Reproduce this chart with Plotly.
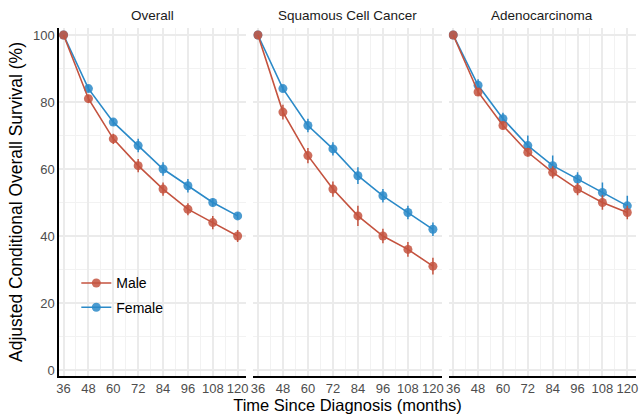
import plotly.graph_objects as go

months = [36, 48, 60, 72, 84, 96, 108, 120]
panels = ["Overall", "Squamous Cell Cancer", "Adenocarcinoma"]

male = {
    "Overall": [100, 81, 69, 61, 54, 48, 44, 40],
    "Squamous Cell Cancer": [100, 77, 64, 54, 46, 40, 36, 31],
    "Adenocarcinoma": [100, 83, 73, 65, 59, 54, 50, 47],
}
female = {
    "Overall": [100, 84, 74, 67, 60, 55, 50, 46],
    "Squamous Cell Cancer": [100, 84, 73, 66, 58, 52, 47, 42],
    "Adenocarcinoma": [100, 85, 75, 67, 61, 57, 53, 49],
}
male_err = {
    "Overall": [0, 1.2, 1.5, 2.0, 2.0, 1.8, 2.0, 1.8],
    "Squamous Cell Cancer": [0, 2.2, 2.3, 2.3, 3.0, 2.2, 2.2, 2.5],
    "Adenocarcinoma": [0, 1.2, 1.2, 1.3, 1.8, 1.8, 2.2, 2.0],
}
female_err = {
    "Overall": [0, 1.0, 1.0, 2.0, 2.0, 2.0, 1.2, 1.0],
    "Squamous Cell Cancer": [0, 1.0, 2.0, 2.0, 2.5, 2.0, 2.0, 2.0],
    "Adenocarcinoma": [0, 1.8, 1.8, 3.0, 3.0, 2.0, 3.0, 3.0],
}

MALE_C = "#C4533F"
FEMALE_C = "#2B8AC8"
FONT = "Liberation Sans"

fig = go.Figure()
W = 579.0
domains = [[0, 188 / W], [195 / W, 384 / W], [391 / W, 1.0]]

for i, p in enumerate(panels):
    xa = "x" if i == 0 else f"x{i+1}"
    ya = "y" if i == 0 else f"y{i+1}"
    for name, vals, errs, col, grp in [
        ("Female", female[p], female_err[p], FEMALE_C, "b"),
        ("Male", male[p], male_err[p], MALE_C, "a"),
    ]:
        fig.add_trace(go.Scatter(
            x=months, y=vals, mode="lines+markers", name=name,
            xaxis=xa, yaxis=ya,
            line=dict(color=col, width=1.6),
            marker=dict(color=col, size=9, opacity=0.85),
            error_y=dict(type="data", array=errs, visible=True, width=0,
                         thickness=1.5, color=col),
            showlegend=(i == 0), legendgroup=grp, legendrank=1 if name == "Male" else 2,
        ))

grid_major = "#EBEBEB"
grid_minor = "#F2F2F2"
for i in range(3):
    sx = "" if i == 0 else str(i + 1)
    fig.update_layout(**{
        f"xaxis{sx}": dict(
            domain=domains[i], range=[33.8, 124.2], tickmode="array",
            tickvals=months, ticktext=[str(m) for m in months],
            showgrid=True, gridcolor=grid_major, gridwidth=1.8,
            minor=dict(tickmode="array", tickvals=[42, 54, 66, 78, 90, 102, 114],
                       showgrid=True, gridcolor=grid_minor, gridwidth=1),
            showline=True, linecolor="#000000", linewidth=1.5,
            zeroline=False, ticks="", ticklabelstandoff=0,
            tickfont=dict(family=FONT, size=13, color="#4D4D4D"),
            anchor="y" if i == 0 else f"y{i+1}",
        ),
        f"yaxis{sx}": dict(
            domain=[0, 1], range=[-1.8, 102.1], tickmode="array",
            tickvals=[0, 20, 40, 60, 80, 100],
            showticklabels=(i == 0),
            showgrid=True, gridcolor=grid_major, gridwidth=1.8,
            minor=dict(tickmode="array", tickvals=[10, 30, 50, 70, 90],
                       showgrid=True, gridcolor=grid_minor, gridwidth=1),
            showline=(i == 0), linecolor="#000000", linewidth=1.5,
            zeroline=False, ticks="",
            tickfont=dict(family=FONT, size=13, color="#4D4D4D"),
            anchor="x" if i == 0 else f"x{i+1}",
        ),
    })

annotations = []
for i, p in enumerate(panels):
    annotations.append(dict(
        text=p, x=(domains[i][0] + domains[i][1]) / 2, y=1, xref="paper", yref="paper",
        xanchor="center", yanchor="bottom", yshift=3, showarrow=False,
        font=dict(family=FONT, size=13.5, color="#1A1A1A"),
    ))

fig.update_layout(
    width=641, height=420,
    margin=dict(l=59, r=3, t=28, b=44),
    paper_bgcolor="white", plot_bgcolor="white",
    font=dict(family=FONT, color="#000000"),
    annotations=annotations,
    xaxis2_title=dict(text="Time Since Diagnosis (months)",
                      font=dict(family=FONT, size=16.5, color="#000000"), standoff=4),
    yaxis_title=dict(text="Adjusted Conditional Overall Survival (%)",
                     font=dict(family=FONT, size=17.5, color="#000000"), standoff=6),
    legend=dict(x=0.03, y=0.312, xanchor="left", yanchor="top",
                bgcolor="rgba(0,0,0,0)", traceorder="grouped", tracegroupgap=3,
                font=dict(family=FONT, size=14, color="#000000"),
                itemwidth=30),
)

fig.write_html("out.html")
